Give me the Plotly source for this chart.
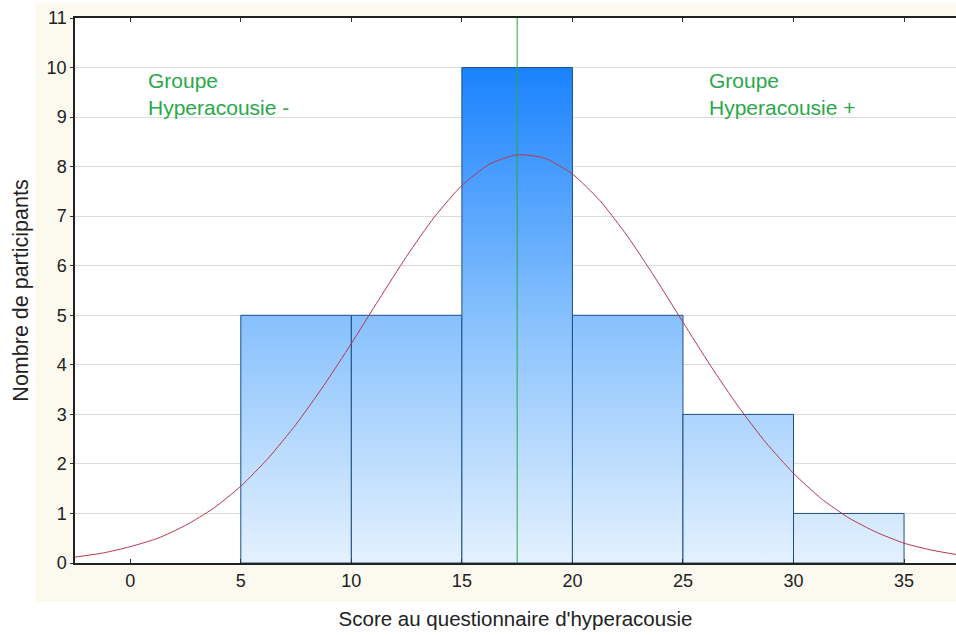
import plotly.graph_objects as go

# Histogram data
bin_left = [5, 10, 15, 20, 25, 30]
bin_right = [10, 15, 20, 25, 30, 35]
counts = [5, 5, 10, 5, 3, 1]

# Fitted normal curve
curve_x = [-2.5, -1.25, 0, 1.25, 2.5, 3.75, 5, 6.25, 7.5, 8.75, 10, 11.25, 12.5, 13.75,
           15, 16.25, 17.5, 18.75, 20, 21.25, 22.5, 23.75, 25, 26.25, 27.5, 28.75,
           30, 31.25, 32.5, 33.75, 35, 36.25, 37.5]
curve_y = [0.12, 0.20, 0.33, 0.50, 0.76, 1.10, 1.55, 2.12, 2.80, 3.58, 4.43, 5.32, 6.19, 6.98,
           7.62, 8.05, 8.24, 8.17, 7.85, 7.31, 6.59, 5.75, 4.86, 3.98, 3.16, 2.43,
           1.81, 1.30, 0.91, 0.62, 0.40, 0.26, 0.16]

cutoff = 17.5
x_ticks = [0, 5, 10, 15, 20, 25, 30, 35]
y_ticks = list(range(0, 12))

fig = go.Figure()

for l, r, c in zip(bin_left, bin_right, counts):
    fig.add_trace(go.Scatter(
        x=[l, l, r, r, l], y=[0, c, c, 0, 0],
        mode="lines", fill="toself",
        fillgradient=dict(type="vertical", start=0, stop=10,
                          colorscale=[[0, "#e4f1fe"], [0.5, "#86c0fd"], [1, "#1a82fe"]]),
        line=dict(color="#1d4f86", width=1),
        hoverinfo="skip", showlegend=False))

fig.add_trace(go.Scatter(
    x=curve_x, y=curve_y, mode="lines",
    line=dict(color="#b5374f", width=1, shape="spline", smoothing=0.6),
    showlegend=False, hoverinfo="skip"))

fig.add_trace(go.Scatter(
    x=[cutoff, cutoff], y=[0, 11], mode="lines",
    line=dict(color="#2aa84a", width=1), showlegend=False, hoverinfo="skip"))

# white plot area (drawn under gridlines)
fig.add_shape(type="rect", xref="x domain", yref="y domain", x0=0, x1=1, y0=0, y1=1,
              fillcolor="white", line=dict(width=0), layer="below")

# white strips outside the cream panel
for (x0, x1, y0, y1) in [(-0.2, -0.0454, -0.3, 1.2), (-0.2, 1.1, -0.3, -0.0716),
                         (-0.2, 1.1, 1.0275, 1.2)]:
    fig.add_shape(type="rect", xref="paper", yref="paper", x0=x0, x1=x1, y0=y0, y1=y1,
                  fillcolor="white", line=dict(width=0), layer="above")

fig.add_annotation(x=0.7, y=10.02, xref="x", yref="y", xanchor="left", yanchor="top",
                   text="Groupe<br>Hyperacousie -", showarrow=False, align="left",
                   font=dict(family="Liberation Sans, Arial", size=21, color="#2aa84a"))
fig.add_annotation(x=26.1, y=10.02, xref="x", yref="y", xanchor="left", yanchor="top",
                   text="Groupe<br>Hyperacousie +", showarrow=False, align="left",
                   font=dict(family="Liberation Sans, Arial", size=21, color="#2aa84a"))

fig.update_layout(
    width=956, height=635,
    margin=dict(l=75, r=0, t=18, b=72),
    paper_bgcolor="#fcf9ee", plot_bgcolor="white",
    font=dict(family="Liberation Sans, Arial", size=18, color="#222222"),
    xaxis=dict(range=[-2.5, 37.35], tickvals=x_ticks, showgrid=False, zeroline=False,
               showline=True, linecolor="#222222", linewidth=2, mirror="ticks",
               ticks="inside", ticklen=4, tickcolor="#333333",
               title=dict(text="Score au questionnaire d'hyperacousie", standoff=22,
                          font=dict(size=20.5))),
    yaxis=dict(range=[0, 11], tickvals=y_ticks, showgrid=True, gridcolor="#dcdcdc",
               zeroline=False, showline=True, linecolor="#222222", linewidth=1.5,
               ticks="outside", ticklen=3, tickcolor="#333333",
               title=dict(text="Nombre de participants", standoff=12, font=dict(size=21.5))),
)

fig.write_html("out.html")
